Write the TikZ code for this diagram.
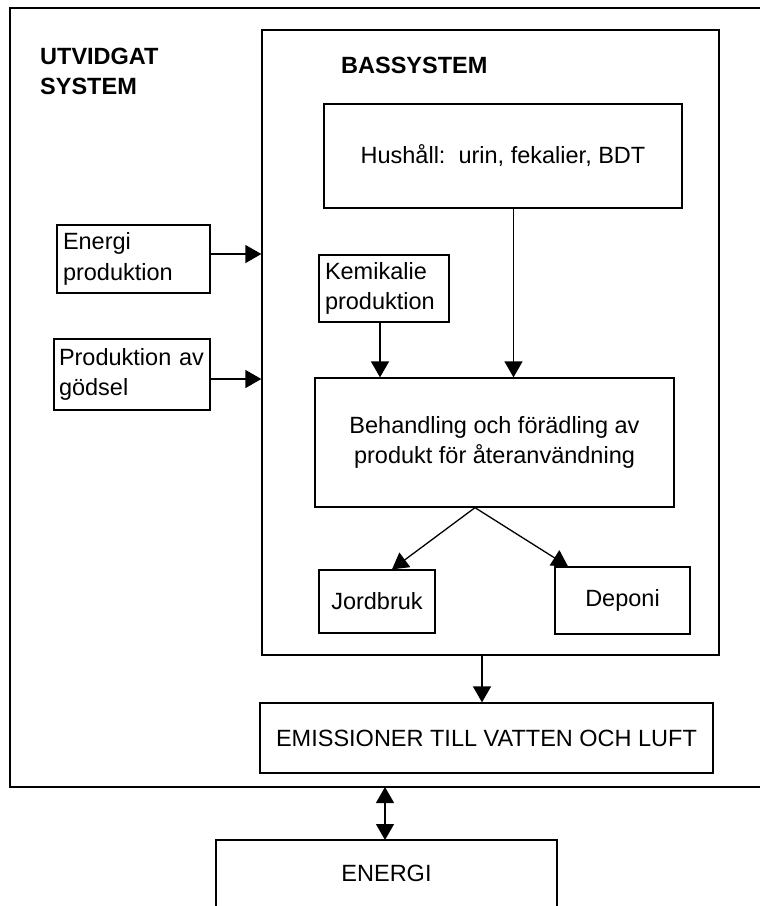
\documentclass[tikz,border=0pt]{standalone}
\usepackage{fontspec}
\setmainfont{Liberation Sans}
\usetikzlibrary{arrows.meta}
\begin{document}
\begin{tikzpicture}[x=1pt,y=-1pt,
  every node/.style={font=\fontsize{23.5}{30.5}\selectfont},
  box/.style={draw,line width=1.3pt,inner sep=0pt,rectangle},
  lbox/.style={box,align=left},
  cbox/.style={box,align=center},
  frame/.style={line width=1.5pt},
  arr/.style={line width=1.3pt,-{Triangle[length=16pt,width=18pt]}},
  darr/.style={line width=1.3pt,{Triangle[length=16pt,width=18pt]}-{Triangle[length=16pt,width=18pt]}},
  title/.style={font=\fontsize{23.5}{30.5}\selectfont\bfseries,align=left,anchor=west,inner sep=0pt}]
\useasboundingbox (0,0) rectangle (760,906);
% outer (extended) system frame, open on the right
\draw[frame] (762,8) -- (10,8) -- (10,787) -- (762,787);
\node[title] (utv) at (40,71.5) {UTVIDGAT\\SYSTEM};
% base system
\node[box, minimum width=457pt, minimum height=625pt] (bas) at (490.5,342.5) {};
\node[title] (bastitle) at (341,65) {BASSYSTEM};
% boxes
\node[cbox, minimum width=358pt, minimum height=104pt] (hush) at (503,156) {Hushåll:~~urin, fekalier, BDT};
\node[lbox, inner xsep=6pt, text width=141pt, minimum height=68pt] (energi) at (133.5,259) {Energi\\produktion};
\node[lbox, inner xsep=5pt, text width=146pt, minimum height=71pt] (godsel) at (132,374.5) {Produktion av\\gödsel};
\node[lbox, inner xsep=6pt, text width=118pt, minimum height=67pt] (kemi) at (384,288.5) {Kemikalie\\produktion};
\node[cbox, minimum width=359pt, minimum height=129pt] (beh) at (494.5,442.5) {Behandling och förädling av\\produkt för återanvändning};
\node[cbox, minimum width=116pt, minimum height=63pt] (jord) at (377,601.5) {Jordbruk};
\node[cbox, minimum width=135pt, minimum height=67pt] (dep) at (622.5,600.5) {Deponi};
\node[cbox, minimum width=453pt, minimum height=70pt] (emis) at (486.5,738) {EMISSIONER TILL VATTEN OCH LUFT};
% energy box, cut off at the bottom
\draw[frame] (216,912) -- (216,840) -- (557,840) -- (557,912);
\node (energy) at (386.5,873) {ENERGI};
% connectors
\draw[arr] ([yshift=5pt]energi.east) -- ([yshift=5pt]energi.east -| bas.west);
\draw[arr] ([yshift=-4.5pt]godsel.east) -- ([yshift=-4.5pt]godsel.east -| bas.west);
\draw[arr] ([xshift=-4pt]kemi.south) -- ([xshift=-4pt]kemi.south |- beh.north);
\draw[arr] ([xshift=10.5pt]hush.south) -- ([xshift=10.5pt]hush.south |- beh.north);
\coordinate (split) at ([xshift=-19.5pt]beh.south);
\draw[arr] (split) -- ([xshift=15pt]jord.north);
\draw[arr] (split) -- ([xshift=-54.5pt]dep.north);
\draw[arr] ([xshift=-8.5pt]bas.south) -- ([xshift=-8.5pt]bas.south |- emis.north);
\coordinate (outb) at (385,787);
\coordinate (entop) at (385,840);
\draw[darr] (outb) -- (entop);
\end{tikzpicture}
\end{document}
